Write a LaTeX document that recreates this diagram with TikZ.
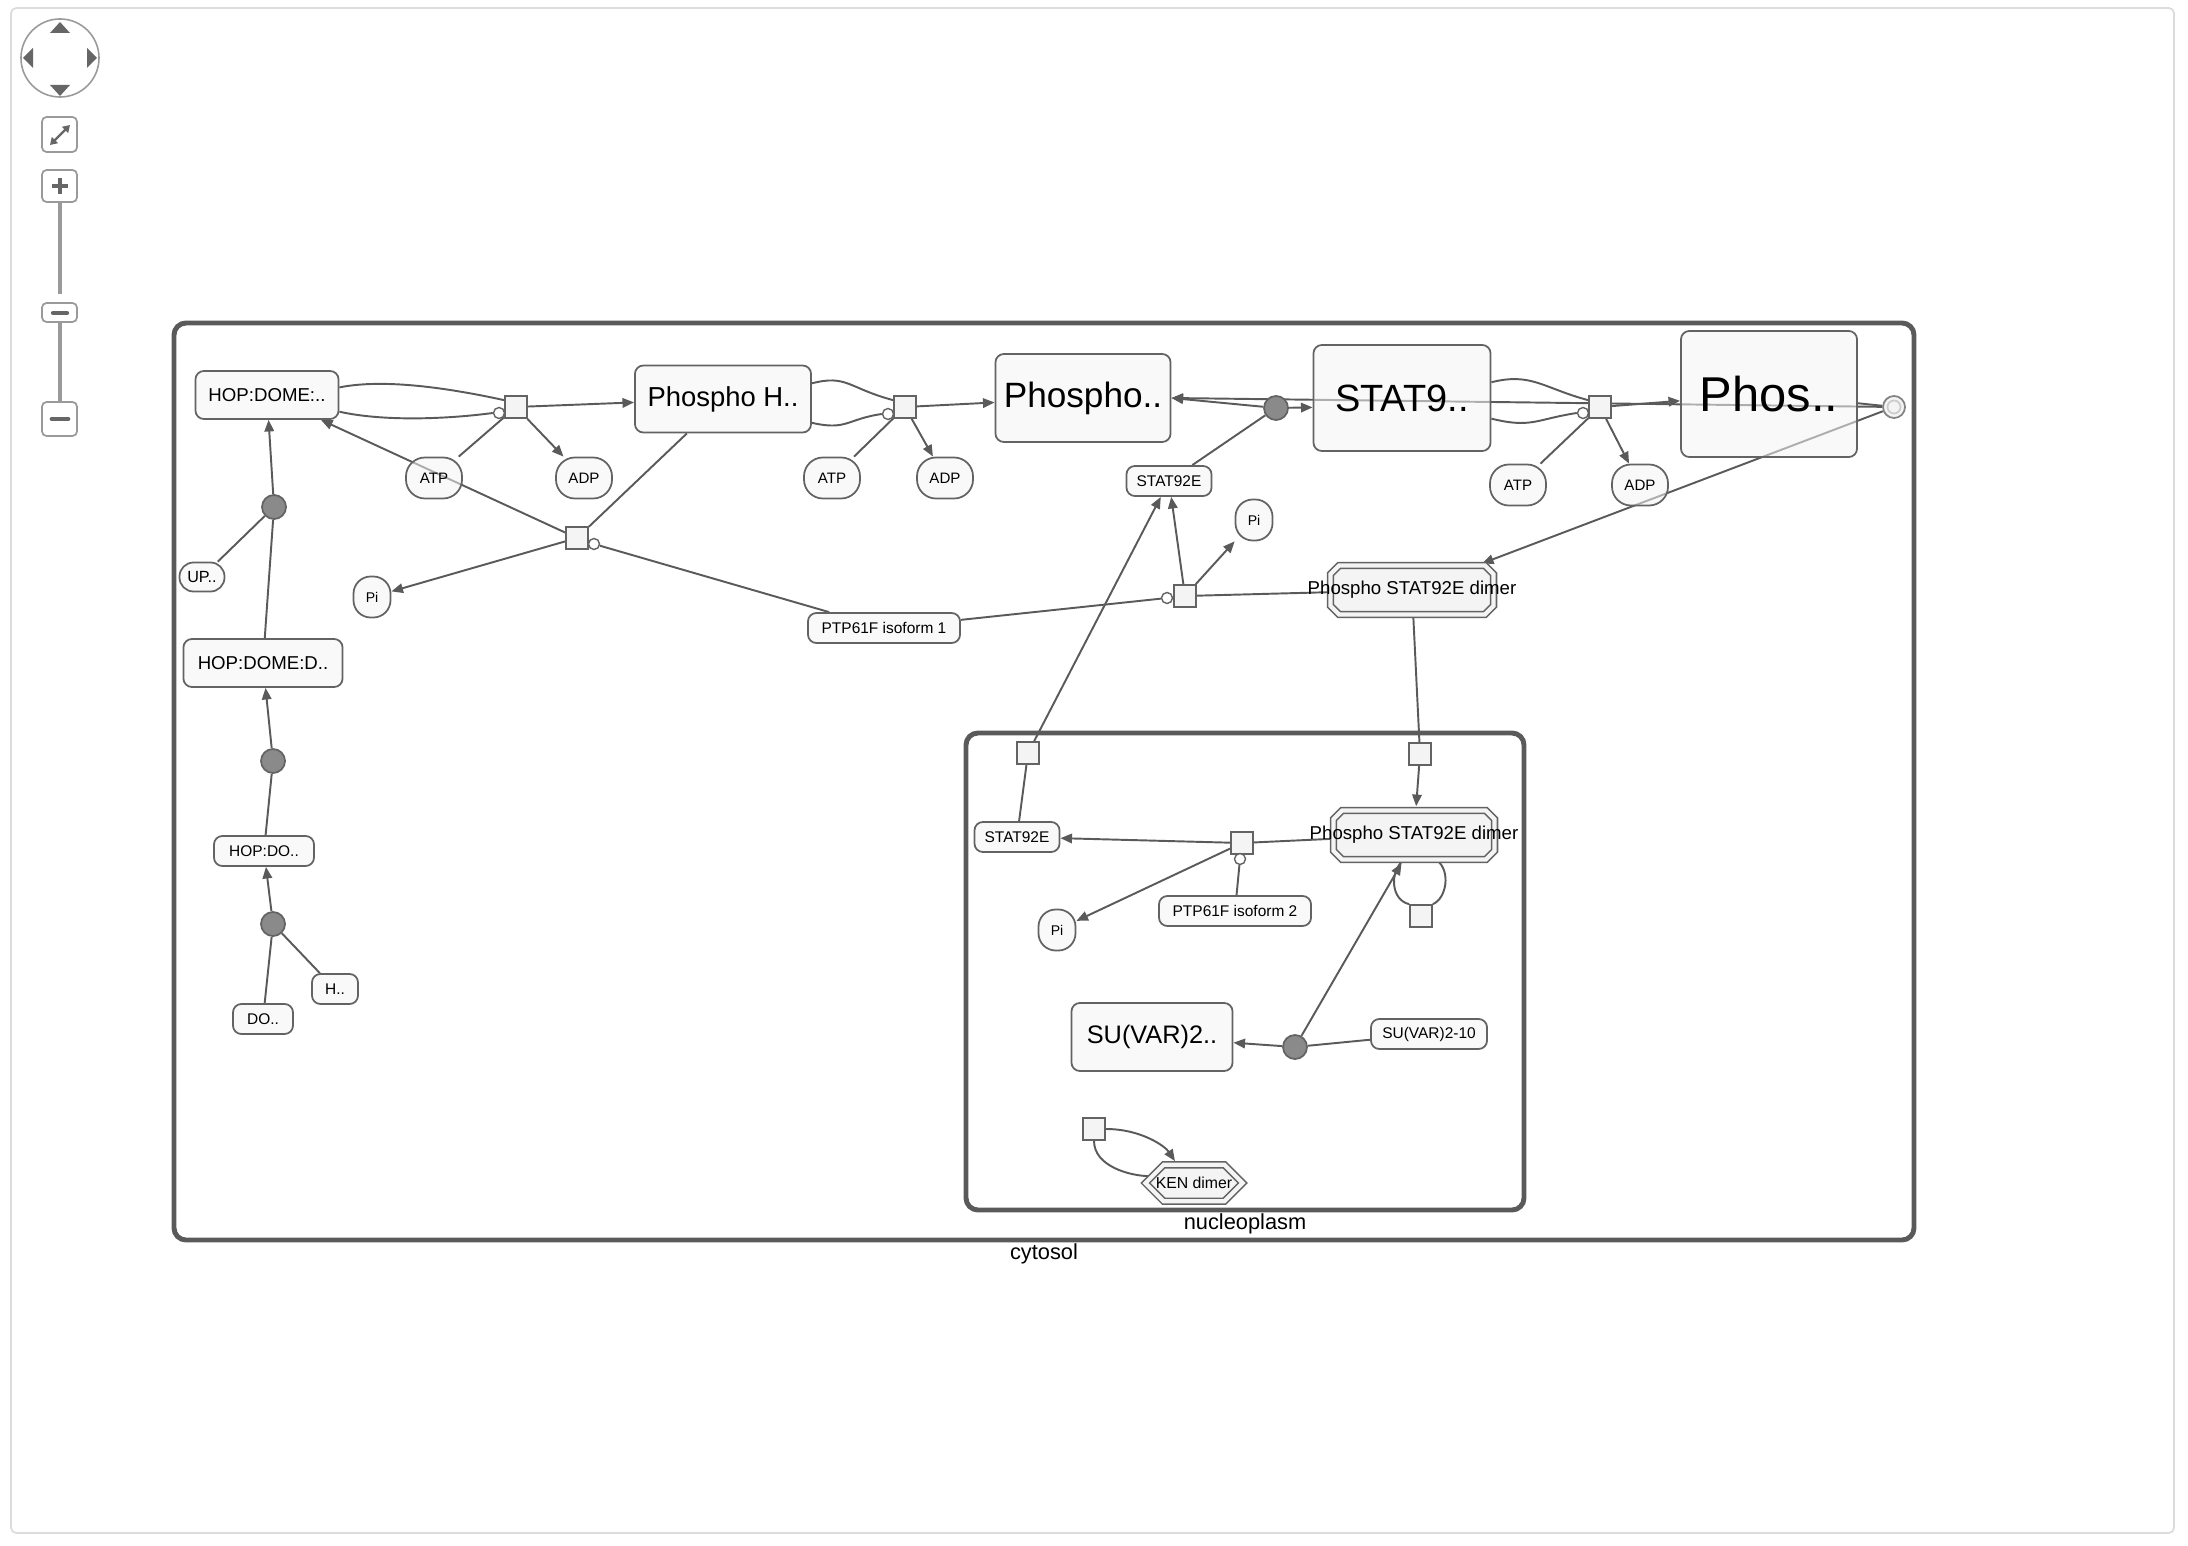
\documentclass[tikz,border=0pt]{standalone}
\usepackage{fontspec}
\setmainfont{Liberation Sans}
\usetikzlibrary{arrows.meta,shapes.misc,backgrounds}
\definecolor{edgegray}{HTML}{5A5A5A}
\definecolor{nodeline}{HTML}{636363}
\definecolor{nodefill}{HTML}{F4F4F4}
\definecolor{assocfill}{HTML}{8A8A8A}
\definecolor{framegray}{HTML}{DCDCDC}
\definecolor{navgray}{HTML}{9A9A9A}
\definecolor{navdark}{HTML}{666666}
\newcommand{\fsz}[1]{\fontsize{#1pt}{#1pt}\selectfont}
\tikzset{
  ent/.style={draw=nodeline, fill=nodefill, fill opacity=.55, text opacity=1, line width=.5pt, rounded corners=2.4pt, inner sep=0pt},
  sml/.style={ent, font=\fsz{4.4}, minimum height=.30cm},
  pill/.style={ent, font=\fsz{4.3}, rounded corners=5.4pt, minimum width=.56cm, minimum height=.41cm},
  pinode/.style={ent, font=\fsz{4}, rounded corners=4.9pt, minimum width=.37cm, minimum height=.41cm},
  proc/.style={draw=nodeline, fill=nodefill, line width=.5pt, minimum size=.22cm, inner sep=0pt},
  assoc/.style={circle, draw=nodeline, fill=assocfill, line width=.5pt, minimum size=.24cm, inner sep=0pt},
  catal/.style={circle, draw=nodeline, fill=white, line width=.4pt, minimum size=.11cm, inner sep=0pt},
  cplx/.style={chamfered rectangle, chamfered rectangle xsep=2.6pt, draw=nodeline, line width=.45pt, double=nodefill, double distance=1.2pt, fill=nodefill, inner sep=0pt},
  rx/.style={draw=edgegray, line width=.55pt},
  prod/.style={rx, -{Triangle[length=3.3pt,width=2.7pt]}},
  compart/.style={draw=edgegray, line width=1.4pt, rounded corners=3.4pt},
}
\begin{document}
\begin{tikzpicture}[x=0.01cm,y=-0.01cm]
\useasboundingbox (0,0) rectangle (2188,1546);
\draw[framegray, line width=.5pt, rounded corners=1.5pt] (11,8) rectangle (2174,1533);

% navigation widget
\draw[navgray, line width=.45pt] (60,58) circle[radius=.39cm];
\fill[navdark] (60,22) -- (70,33) -- (50,33) -- cycle;
\fill[navdark] (60,96) -- (70,85) -- (50,85) -- cycle;
\fill[navdark] (23,58) -- (33,48) -- (33,68) -- cycle;
\fill[navdark] (97,58) -- (87,48) -- (87,68) -- cycle;
\draw[navgray, line width=.5pt, rounded corners=1.3pt] (42,117) rectangle (77,152);
\draw[navdark, line width=.7pt, {Triangle[length=2pt,width=2.4pt]}-{Triangle[length=2pt,width=2.4pt]}] (50,145) -- (70,125);
\draw[navgray, line width=.5pt, rounded corners=1.3pt] (42,170) rectangle (77,202);
\draw[navdark, line width=1.4pt] (52,186) -- (68,186) (60,178) -- (60,194);
\draw[navgray, line width=1.1pt] (60,202) -- (60,294) (60,322) -- (60,402);
\draw[navgray, line width=.5pt, rounded corners=1.3pt] (42,303) rectangle (77,322);
\draw[navdark, line width=1.2pt, line cap=round] (53,313) -- (67,313);
\draw[navgray, line width=.5pt, rounded corners=1.3pt] (42,402) rectangle (77,436);
\draw[navdark, line width=1.4pt, line cap=round] (52,419) -- (68,419);

% compartments
\draw[compart] (174,323) rectangle (1914,1240);
\node[font=\fsz{6.2}] (cytLbl) at (1044,1254) {cytosol};
\draw[compart] (966,733) rectangle (1524,1210);
\node[font=\fsz{6.2}] (nucLbl) at (1245,1224) {nucleoplasm};

\node[ent, font=\fsz{5.3}, minimum width=1.43cm, minimum height=.48cm] (hopA) at (267,395) {HOP:DOME:..};
\node[ent, font=\fsz{5.3}, minimum width=1.59cm, minimum height=.48cm] (hopB) at (263,663) {HOP:DOME:D..};
\node[sml, minimum width=1.00cm] (hopC) at (264,851) {HOP:DO..};
\node[sml, minimum width=.46cm] (hN) at (335,989) {H..};
\node[sml, minimum width=.60cm] (doN) at (263,1019) {DO..};
\node[ent, font=\fsz{4.6}, rounded corners=4pt, minimum width=.45cm, minimum height=.29cm] (upN) at (202,577) {UP..};
\node[assoc] (g1) at (274,507) {};
\node[assoc] (g2) at (273,761) {};
\node[assoc] (g3) at (273,924) {};
\node[proc] (p1) at (516,407) {};
\node[catal] (o1) at (499,413) {};
\node[pill] (atp1) at (434,478) {ATP};
\node[pill] (adp1) at (584,478) {ADP};
\node[ent, font=\fsz{7.8}, minimum width=1.76cm, minimum height=.67cm] (phH) at (723,399) {Phospho H..};
\node[proc] (p2) at (577,538) {};
\node[catal] (o2) at (594,544) {};
\node[pinode] (pi1) at (372,597) {Pi};
\node[proc] (p3) at (905,407) {};
\node[catal] (o3) at (888,414) {};
\node[pill] (atp2) at (832,478) {ATP};
\node[pill] (adp2) at (945,478) {ADP};
\node[ent, font=\fsz{10}, minimum width=1.75cm, minimum height=.88cm] (phA) at (1083,398) {Phospho..};
\node[assoc] (g4) at (1276,408) {};
\node[ent, font=\fsz{10.8}, minimum width=1.77cm, minimum height=1.06cm] (stA) at (1402,398) {STAT9..};
\node[proc] (p5) at (1600,407) {};
\node[catal] (o5) at (1583,413) {};
\node[pill] (atp3) at (1518,485) {ATP};
\node[pill] (adp3) at (1640,485) {ADP};
\node[ent, font=\fsz{13.9}, minimum width=1.76cm, minimum height=1.26cm] (phB) at (1769,394) {Phos..};
\node[circle, draw=nodeline!80, fill=nodefill, line width=.5pt, minimum size=.22cm, inner sep=0pt] (oR) at (1894,407) {};
\draw[gray!40, line width=.5pt] (oR.center) circle[radius=.065cm];
\node[sml, minimum width=.85cm] (stat1) at (1169,481) {STAT92E};
\node[pinode] (pi2) at (1254,520) {Pi};
\node[proc] (p4) at (1185,596) {};
\node[catal] (o4) at (1167,598) {};
\node[sml, minimum width=1.52cm] (ptp1) at (884,628) {PTP61F isoform 1};
\node[cplx, font=\fsz{5.3}, minimum width=1.63cm, minimum height=.49cm] (dim1) at (1412,590) {\makebox[0pt]{Phospho STAT92E dimer}};
\node[proc] (q1) at (1028,753) {};
\node[proc] (q2) at (1420,754) {};
\node[sml, minimum width=.85cm] (stat2) at (1017,837) {STAT92E};
\node[proc] (p6) at (1242,843) {};
\node[catal] (o6) at (1240,859) {};
\node[sml, minimum width=1.52cm] (ptp2) at (1235,911) {PTP61F isoform 2};
\node[pinode] (pi3) at (1057,930) {Pi};
\node[cplx, font=\fsz{5.3}, minimum width=1.61cm, minimum height=.49cm] (dim2) at (1414,835) {\makebox[0pt]{Phospho STAT92E dimer}};
\node[proc] (q3) at (1421,916) {};
\node[ent, font=\fsz{7.2}, minimum width=1.61cm, minimum height=.68cm] (suA) at (1152,1037) {SU(VAR)2..};
\node[assoc] (g5) at (1295,1047) {};
\node[sml, minimum width=1.16cm] (suB) at (1429,1034) {SU(VAR)2-10};
\node[proc] (q4) at (1094,1129) {};
\node[cplx, font=\fsz{4.5}, minimum width=.97cm, minimum height=.31cm, chamfered rectangle xsep=2pt] (ken) at (1194,1183) {KEN dimer};

\begin{scope}[on background layer]
\draw[rx] (hopA.6) .. controls +(45,-9) and +(-55,-12) .. (p1.150);
\draw[rx] (hopA.-13) .. controls +(45,10) and +(-45,6) .. (o1.west);
\draw[prod] (p1) -- (phH);
\draw[rx] (atp1) -- (p1);
\draw[prod] (p1) -- (adp1);
\draw[prod] (p2) -- (hopA);
\draw[rx] (phH) -- (p2);
\draw[prod] (p2) -- (pi1);
\draw[rx] (o2) -- (ptp1);
\draw[prod] (g1) -- (hopA);
\draw[rx] (upN) -- (g1);
\draw[rx] (hopB) -- (g1);
\draw[prod] (g2) -- (hopB);
\draw[rx] (hopC) -- (g2);
\draw[prod] (g3) -- (hopC);
\draw[rx] (doN) -- (g3);
\draw[rx] (hN) -- (g3);
\draw[rx] (phH.10) .. controls +(35,-9) and +(-45,-12) .. (p3.150);
\draw[rx] (phH.-15) .. controls +(35,8) and +(-35,5) .. (o3.west);
\draw[prod] (p3) -- (phA);
\draw[rx] (atp2) -- (p3);
\draw[prod] (p3) -- (adp2);
\draw[prod] (g4) -- (phA.east);
\draw[prod] (g4) -- (stA.186);
\draw[rx] (stat1) -- (g4);
\draw[rx] (stA.10) .. controls +(40,-10) and +(-45,-12) .. (p5.150);
\draw[rx] (stA.-13) .. controls +(40,10) and +(-40,6) .. (o5.west);
\draw[prod] (p5) -- (phB);
\draw[rx] (atp3) -- (p5);
\draw[prod] (p5) -- (adp3);
\draw[prod] (oR) -- (phA.east);
\draw[rx] (phB) -- (oR);
\draw[prod, shorten >=1pt] (oR) -- (dim1);
\draw[rx] (dim1) -- (p4);
\draw[prod] (p4) -- (stat1);
\draw[prod] (p4) -- (pi2);
\draw[rx] (ptp1) -- (o4);
\draw[prod] (q1) -- (stat1);
\draw[rx] (stat2) -- (q1);
\draw[rx] (dim1) -- (q2);
\draw[prod, shorten >=1pt] (q2) -- (dim2);
\draw[rx] (dim2) -- (p6);
\draw[prod] (p6) -- (stat2);
\draw[prod] (p6) -- (pi3);
\draw[rx] (o6) -- (ptp2);
\draw[rx] (dim2.-48) .. controls +(14,10) and +(14,-6) .. (q3.north east);
\draw[rx] (q3.north west) .. controls +(-18,-4) and +(-14,12) .. (dim2.-113);
\draw[prod, shorten >=1pt] (g5) -- (dim2.-113);
\draw[prod] (g5) -- (suA);
\draw[rx] (suB) -- (g5);
\draw[prod, shorten >=1pt] (q4.east) .. controls +(35,0) and +(-12,-18) .. (ken.132);
\draw[rx] (q4.south) .. controls +(0,25) and +(-22,0) .. (ken.171);
\end{scope}
\end{tikzpicture}
\end{document}
